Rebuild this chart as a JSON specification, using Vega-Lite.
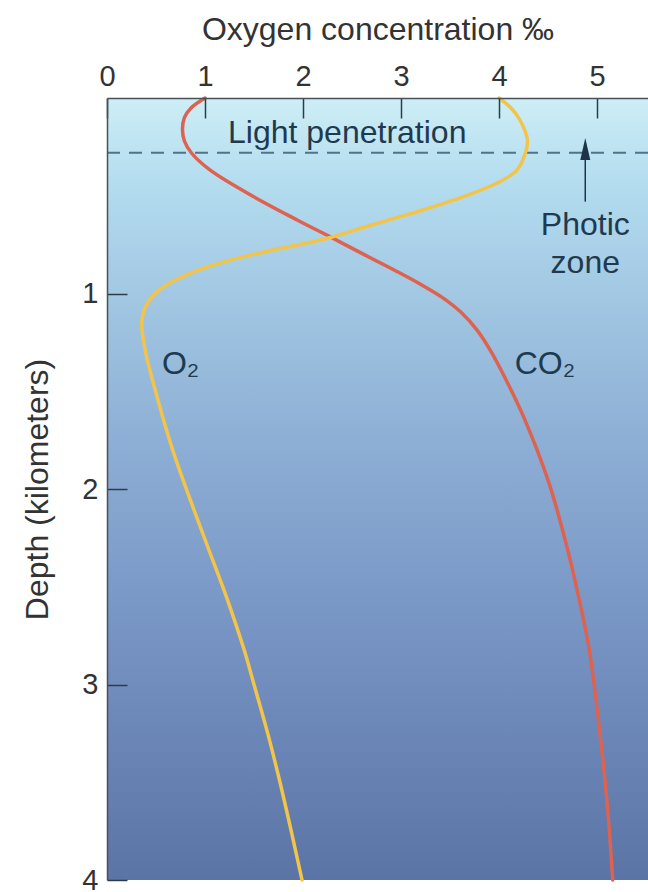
{
  "$schema": "https://vega.github.io/schema/vega-lite/v6.json",
  "autosize": {"type": "none"},
  "padding": {"left": 107, "top": 98, "right": 0, "bottom": 12},
  "width": 541,
  "height": 782,
  "background": "white",
  "data": {"values": [{}]},
  "config": {
    "font": "Liberation Sans",
    "view": {"stroke": null},
    "axis": {
      "labelFont": "Liberation Sans",
      "titleFont": "Liberation Sans",
      "labelFontSize": 29,
      "titleFontSize": 32,
      "titleFontWeight": "normal",
      "labelColor": "#333333",
      "titleColor": "#333333",
      "domainColor": "#4a5058",
      "domainWidth": 1.5,
      "tickColor": "#2e3c4a",
      "tickWidth": 1.5,
      "grid": false
    }
  },
  "datasets": {
    "curves": [
      {"gas": "CO2", "conc": 1.0, "depth": 0.0},
      {"gas": "CO2", "conc": 0.86, "depth": 0.05},
      {"gas": "CO2", "conc": 0.79, "depth": 0.1},
      {"gas": "CO2", "conc": 0.77, "depth": 0.16},
      {"gas": "CO2", "conc": 0.79, "depth": 0.22},
      {"gas": "CO2", "conc": 0.86, "depth": 0.28},
      {"gas": "CO2", "conc": 1.05, "depth": 0.368},
      {"gas": "CO2", "conc": 1.43, "depth": 0.486},
      {"gas": "CO2", "conc": 1.94, "depth": 0.624},
      {"gas": "CO2", "conc": 2.28, "depth": 0.711},
      {"gas": "CO2", "conc": 2.62, "depth": 0.8},
      {"gas": "CO2", "conc": 2.93, "depth": 0.88},
      {"gas": "CO2", "conc": 3.19, "depth": 0.95},
      {"gas": "CO2", "conc": 3.42, "depth": 1.02},
      {"gas": "CO2", "conc": 3.62, "depth": 1.1},
      {"gas": "CO2", "conc": 3.78, "depth": 1.19},
      {"gas": "CO2", "conc": 3.91, "depth": 1.29},
      {"gas": "CO2", "conc": 4.08, "depth": 1.45},
      {"gas": "CO2", "conc": 4.25, "depth": 1.63},
      {"gas": "CO2", "conc": 4.51, "depth": 1.97},
      {"gas": "CO2", "conc": 4.7, "depth": 2.31},
      {"gas": "CO2", "conc": 4.82, "depth": 2.57},
      {"gas": "CO2", "conc": 4.92, "depth": 2.82},
      {"gas": "CO2", "conc": 4.99, "depth": 3.08},
      {"gas": "CO2", "conc": 5.1, "depth": 3.59},
      {"gas": "CO2", "conc": 5.16, "depth": 4.0},
      {"gas": "O2", "conc": 4.0, "depth": 0.0},
      {"gas": "O2", "conc": 4.12, "depth": 0.05},
      {"gas": "O2", "conc": 4.21, "depth": 0.11},
      {"gas": "O2", "conc": 4.29, "depth": 0.215},
      {"gas": "O2", "conc": 4.27, "depth": 0.28},
      {"gas": "O2", "conc": 4.18, "depth": 0.37},
      {"gas": "O2", "conc": 3.98, "depth": 0.435},
      {"gas": "O2", "conc": 3.63, "depth": 0.506},
      {"gas": "O2", "conc": 3.22, "depth": 0.573},
      {"gas": "O2", "conc": 2.9, "depth": 0.62},
      {"gas": "O2", "conc": 2.63, "depth": 0.66},
      {"gas": "O2", "conc": 2.26, "depth": 0.716},
      {"gas": "O2", "conc": 1.94, "depth": 0.752},
      {"gas": "O2", "conc": 1.6, "depth": 0.788},
      {"gas": "O2", "conc": 1.26, "depth": 0.829},
      {"gas": "O2", "conc": 0.93, "depth": 0.88},
      {"gas": "O2", "conc": 0.64, "depth": 0.946},
      {"gas": "O2", "conc": 0.49, "depth": 1.0},
      {"gas": "O2", "conc": 0.39, "depth": 1.07},
      {"gas": "O2", "conc": 0.355, "depth": 1.15},
      {"gas": "O2", "conc": 0.39, "depth": 1.29},
      {"gas": "O2", "conc": 0.52, "depth": 1.545},
      {"gas": "O2", "conc": 0.67, "depth": 1.8},
      {"gas": "O2", "conc": 0.85, "depth": 2.056},
      {"gas": "O2", "conc": 1.04, "depth": 2.312},
      {"gas": "O2", "conc": 1.23, "depth": 2.568},
      {"gas": "O2", "conc": 1.4, "depth": 2.824},
      {"gas": "O2", "conc": 1.5, "depth": 3.0},
      {"gas": "O2", "conc": 1.64, "depth": 3.25},
      {"gas": "O2", "conc": 1.765, "depth": 3.5},
      {"gas": "O2", "conc": 1.88, "depth": 3.75},
      {"gas": "O2", "conc": 1.99, "depth": 4.0}
    ]
  },
  "layer": [
    {
      "mark": {
        "type": "rect",
        "fill": {
          "gradient": "linear",
          "x1": 0, "y1": 0, "x2": 0, "y2": 1,
          "stops": [
            {"offset": 0, "color": "#cdeef5"},
            {"offset": 0.1, "color": "#b5def0"},
            {"offset": 0.25, "color": "#a2c8e3"},
            {"offset": 0.45, "color": "#8cadd4"},
            {"offset": 0.7, "color": "#7592c2"},
            {"offset": 1, "color": "#5a74a5"}
          ]
        }
      },
      "encoding": {
        "x": {"datum": 0, "type": "quantitative", "scale": {"domain": [0, 5.52], "nice": false, "zero": false},
          "axis": {"orient": "top", "title": "Oxygen concentration ‰", "values": [0, 1, 2, 3, 4, 5], "tickSize": -20, "labelPadding": 27, "titlePadding": 16, "format": "d", "labelFlush": false, "zindex": 2}},
        "x2": {"datum": 5.52},
        "y": {"datum": 0, "type": "quantitative", "scale": {"domain": [0, 4], "reverse": true, "nice": false},
          "axis": {"title": "Depth (kilometers)", "values": [1, 2, 3, 4], "tickSize": -20, "labelPadding": 29, "titlePadding": 27, "format": "d", "labelFlush": false, "zindex": 2}},
        "y2": {"datum": 4}
      }
    },
    {
      "mark": {"type": "rule", "color": "#52728a", "strokeWidth": 2, "strokeDash": [13, 9]},
      "encoding": {
        "y": {"datum": 0.28, "type": "quantitative"}
      }
    },
    {
      "data": {"name": "curves"},
      "mark": {"type": "line", "interpolate": "catmull-rom", "strokeWidth": 3.5, "strokeCap": "round"},
      "encoding": {
        "x": {"field": "conc", "type": "quantitative"},
        "y": {"field": "depth", "type": "quantitative"},
        "order": {"field": "depth", "type": "quantitative"},
        "detail": {"field": "gas"},
        "color": {"field": "gas", "type": "nominal", "scale": {"domain": ["CO2", "O2"], "range": ["#de6250", "#f2c44a"]}, "legend": null}
      }
    },
    {
      "mark": {"type": "rule", "color": "#1f3346", "strokeWidth": 1.5},
      "encoding": {
        "x": {"datum": 4.88, "type": "quantitative"},
        "y": {"datum": 0.3, "type": "quantitative"},
        "y2": {"datum": 0.53}
      }
    },
    {
      "mark": {"type": "point", "shape": "M0,-1.1L0.5,1.1L-0.5,1.1Z", "filled": true, "color": "#1f3346", "size": 400, "opacity": 1, "strokeWidth": 0},
      "encoding": {
        "x": {"datum": 4.88, "type": "quantitative"},
        "y": {"datum": 0.261, "type": "quantitative"}
      }
    },
    {
      "mark": {"type": "text", "text": "Light penetration", "fontSize": 32, "color": "#1f3a4e", "align": "left", "baseline": "alphabetic"},
      "encoding": {
        "x": {"datum": 1.235, "type": "quantitative"},
        "y": {"datum": 0.23, "type": "quantitative"}
      }
    },
    {
      "mark": {"type": "text", "text": ["Photic", "zone"], "fontSize": 32, "lineHeight": 38, "color": "#1f3a4e", "align": "center", "baseline": "alphabetic"},
      "encoding": {
        "x": {"datum": 4.88, "type": "quantitative"},
        "y": {"datum": 0.70, "type": "quantitative"}
      }
    },
    {
      "mark": {"type": "text", "text": "O₂", "fontSize": 32, "color": "#1f3a4e", "align": "left", "baseline": "alphabetic"},
      "encoding": {
        "x": {"datum": 0.56, "type": "quantitative"},
        "y": {"datum": 1.41, "type": "quantitative"}
      }
    },
    {
      "mark": {"type": "text", "text": "CO₂", "fontSize": 32, "color": "#1f3a4e", "align": "left", "baseline": "alphabetic"},
      "encoding": {
        "x": {"datum": 4.16, "type": "quantitative"},
        "y": {"datum": 1.41, "type": "quantitative"}
      }
    }
  ]
}
